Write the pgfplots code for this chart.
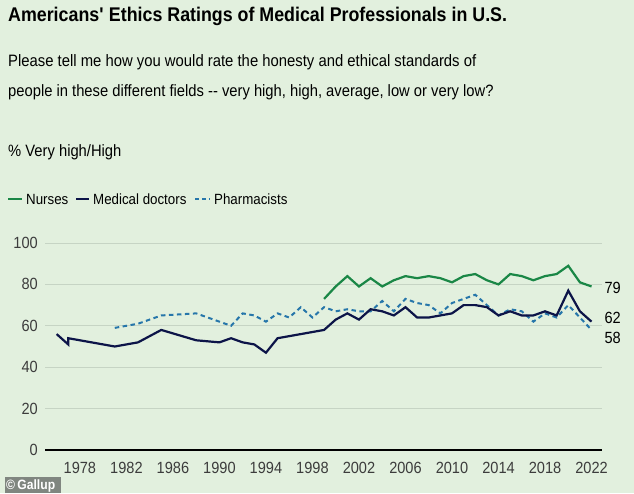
\documentclass[border=0pt]{standalone}
\usepackage{fontspec}
\setmainfont{Liberation Sans}[FakeStretch=0.9]
\usepackage{pgfplots}
\usepackage{pgfplotstable}
\pgfplotsset{compat=1.18}
\definecolor{bg}{RGB}{226,240,222}
\definecolor{nurse}{RGB}{26,135,70}
\definecolor{doc}{RGB}{12,20,72}
\definecolor{pharm}{RGB}{38,118,170}
\definecolor{gridc}{RGB}{198,212,196}
\definecolor{tickc}{RGB}{60,60,60}
\definecolor{badge}{RGB}{128,134,128}

\pgfplotstableread{
year val
1999 73
2000 79
2001 84
2002 79
2003 83
2004 79
2005 82
2006 84
2007 83
2008 84
2009 83
2010 81
2011 84
2012 85
2013 82
2014 80
2015 85
2016 84
2017 82
2018 84
2019 85
2020 89
2021 81
2022 79
}\nurses

\pgfplotstableread{
year val
1976 56
1977 51
1977 54
1981 50
1983 52
1985 58
1988 53
1990 52
1991 54
1992 52
1993 51
1994 47
1995 54
1999 58
2000 63
2001 66
2002 63
2003 68
2004 67
2005 65
2006 69
2007 64
2008 64
2009 65
2010 66
2011 70
2012 70
2013 69
2014 65
2015 67
2016 65
2017 65
2018 67
2019 65
2020 77
2021 67
2022 62
}\doctors

\pgfplotstableread{
year val
1981 59
1983 61
1985 65
1988 66
1990 62
1991 60
1992 66
1993 65
1994 62
1995 66
1996 64
1997 69
1998 64
1999 69
2000 67
2001 68
2002 67
2003 67
2004 72
2005 67
2006 73
2007 71
2008 70
2009 66
2010 71
2011 73
2012 75
2013 70
2014 65
2015 68
2016 67
2017 62
2018 66
2019 64
2020 70
2021 64
2022 58
}\pharm

\begin{document}
\begin{tikzpicture}[x=1pt,y=1pt]
\fill[bg] (0,0) rectangle (634,493);
\useasboundingbox (0,0) rectangle (634,493);
\node[anchor=base west, inner sep=0] at (8,471) {\fontsize{19.8}{24}\selectfont\bfseries Americans\textquotesingle\ Ethics Ratings of Medical Professionals in U.S.};
\node[anchor=base west, inner sep=0] at (8,426.5) {\fontsize{16.5}{20}\selectfont Please tell me how you would rate the honesty and ethical standards of};
\node[anchor=base west, inner sep=0] at (8,396.5) {\fontsize{16.4}{20}\selectfont people in these different fields -\kern0pt- very high, high, average, low or very low?};
\node[anchor=base west, inner sep=0] at (8,336.5) {\fontsize{16.4}{20}\selectfont \% Very high/High};
% legend
\draw[nurse, line width=2pt] (8,293.5) -- (22,293.5);
\node[anchor=base west, inner sep=0] at (26,288) {\fontsize{14.8}{18}\selectfont Nurses};
\draw[doc, line width=2pt] (76,293.5) -- (89,293.5);
\node[anchor=base west, inner sep=0] at (93,288) {\fontsize{14.8}{18}\selectfont Medical doctors};
\draw[pharm, line width=2pt, dash pattern=on 4pt off 3pt] (195,293.5) -- (210,293.5);
\node[anchor=base west, inner sep=0] at (214,288) {\fontsize{14.8}{18}\selectfont Pharmacists};
% copyright badge
\fill[badge] (5,0) rectangle (61,16);
\node[anchor=base west, inner sep=0, text=white] at (6,3.5) {\fontsize{13.5}{14}\selectfont\bfseries \copyright\,Gallup};

\begin{axis}[
  at={(45pt,43pt)}, anchor=south west,
  width=557pt, height=207pt, scale only axis,
  xmin=1975, xmax=2022.9, ymin=0, ymax=100,
  clip=false,
  axis x line*=bottom, axis y line*=left,
  x axis line style={black, line width=1.3pt, -},
  y axis line style={draw=none},
  xtick={1978,1982,...,2022},
  ytick={0,20,...,100},
  ymajorgrids, grid style={gridc, line width=0.8pt},
  major tick length=0pt,
  /pgf/number format/1000 sep={},
  /pgf/number format/assume math mode=true,
  tick label style={font=\fontsize{16.2}{18}\selectfont, text=tickc},
  xticklabel style={anchor=base, yshift=-23pt, inner sep=0},
  yticklabel style={anchor=east, inner sep=0, xshift=-7pt},
]
\addplot[pharm, line width=2pt, dash pattern=on 4.5pt off 3.5pt] table[x=year,y=val] {\pharm};
\addplot[doc, line width=2.2pt] table[x=year,y=val] {\doctors};
\addplot[nurse, line width=2.2pt] table[x=year,y=val] {\nurses};
\node[anchor=west, inner sep=0, font=\fontsize{16.2}{18}\selectfont] at (axis cs:2023.1,78.2) {79};
\node[anchor=west, inner sep=0, font=\fontsize{16.2}{18}\selectfont] at (axis cs:2023.1,64) {62};
\node[anchor=west, inner sep=0, font=\fontsize{16.2}{18}\selectfont] at (axis cs:2023.1,54) {58};
\end{axis}
\end{tikzpicture}
\end{document}
